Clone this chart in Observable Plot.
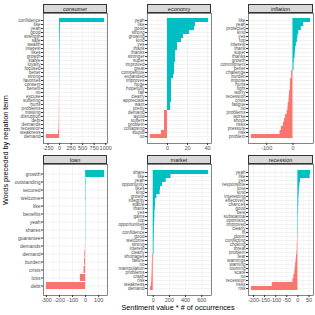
<!DOCTYPE html>
<html><head><meta charset="utf-8">
<script src="https://cdn.jsdelivr.net/npm/d3@7"></script>
<script src="https://cdn.jsdelivr.net/npm/@observablehq/plot@0.6"></script>
<style>
body{margin:0;background:#fff;font-family:"Liberation Sans",Arial,sans-serif;}
#wrap{position:relative;width:315px;height:315px;overflow:hidden;background:#fff;}
.strip{position:absolute;background:#D9D9D9;border:0.6px solid #333;box-sizing:border-box;font-size:5.5px;color:#1A1A1A;text-align:center;}
.facet{position:absolute;}
.ttl{position:absolute;font-size:7.3px;color:#000;text-align:center;white-space:nowrap;}
</style></head><body><div id="wrap"></div>
<script>
const facetNames = ["consumer","economy","inflation","loan","market","recession"];

const consumerWords = ["confidence","like","yeah","good","strength","safe","wealth","interest","likes","growth","stable","loyalty","focused","better","strong","favorites","consent","benefit","no","excuse","suffering","hurts","problems","missing","disruption","debt","demands","recession","weakness","demand"];
const consumerValues = [975,20,18,16,14,12,10,9,8,8,7,6,6,5,5,4,4,3,-3,-3,-4,-4,-5,-6,-6,-8,-10,-12,-22,-285];

const economyWords = ["yeah","like","good","strong","growing","kind","yes","thank","thanks","stronger","super","improved","great","competitive","expanded","improves","huge","hopefully","fair","clearly","appreciate","want","pretty","demand","avoid","suffers","problem","collapsing","stupid","no"];
const economyValues = [41,28,27,22,16,14,10,10,8,8,8,7,7,7,6,4,4,4,4,4,4,3,3,-3,-3,-3,-3,-3,-6,-17];

const inflationWords = ["like","yeah","protected","kind","yes","top","interest","thank","super","thanks","growth","commitment","better","challenge","burden","impose","hurts","fight","worry","recession","crisis","fatigue","no","problems","worse","shock","risks","pressure","risk","problem"];
const inflationValues = [67,41,32,22,19,17,13,10,9,8,5,4,4,-5,-5,-9,-10,-10,-13,-14,-15,-18,-19,-22,-28,-32,-36,-44,-49,-158];

const loanWords = ["growth","outstanding","secured","welcome","like","benefits","yeah","shares","guarantee","demands","demand","burden","crisis","loss","debt"];
const loanValues = [145,4,3,3,2,2,2,2,2,-2,-6,-8,-12,-40,-300];

const marketWords = ["share","like","yeah","opportunity","likes","kind","growth","integrity","stable","thank","yes","gains","top","opportunities","fit","confidence","good","welcome","strong","interest","clearly","shortages","failure","no","manipulation","problems","crash","risk","weakness","demand"];
const marketValues = [685,220,160,115,90,85,45,30,28,25,20,20,18,16,14,14,12,12,10,10,10,-10,-10,-12,-12,-14,-16,-18,-22,-35];

const recessionWords = ["yeah","like","yes","responsible","love","kind","interesting","effectively","chances","good","best","substantial","optimistic","improved","clearly","fit","doom","conflicting","choking","threat","problem","fear","warnings","warning","looming","scare","no","recession","risks","risk"];
const recessionValues = [57,55,12,9,7,6,5,4,4,3,3,2,2,2,2,2,-2,-2,-3,-3,-4,-6,-8,-10,-12,-14,-18,-22,-115,-209];

const consumerTicks = [-250,0,250,500,750,1000];
const economyTicks = [0,20,40];
const inflationTicks = [-100,0];
const loanTicks = [-300,-200,-100,0,100];
const marketTicks = [0,200,400,600];
const recessionTicks = [-200,-150,-100,-50,0,50];

const xTitle = "Sentiment value * # of occurrences";
const yTitle = "Words preceded by negation term";

const wordsList = [consumerWords,economyWords,inflationWords,loanWords,marketWords,recessionWords];
const valuesList = [consumerValues,economyValues,inflationValues,loanValues,marketValues,recessionValues];
const ticksList = [consumerTicks,economyTicks,inflationTicks,loanTicks,marketTicks,recessionTicks];

// layout
const colX = [43,147,248], colW = [64,64,65], colML = [43,40,40];
const rowY = [13,164], rowH = [130,131];
const stripH = 9;

const wrap = document.getElementById("wrap");
facetNames.forEach((name,i)=>{
  const r = Math.floor(i/3), c = i%3;
  const words = wordsList[i], values = valuesList[i], ticks = ticksList[i];
  const data = words.map((w,j)=>({w, v: values[j]}));
  const lo = Math.min(0, d3.min(values)), hi = Math.max(0, d3.max(values));
  const pad = (hi-lo)*0.05;
  const dom = [lo-pad, hi+pad];
  const step = ticks.length>1 ? ticks[1]-ticks[0] : 100;
  const minor = ticks.map(t=>t-step/2).concat([ticks[ticks.length-1]+step/2]).filter(t=>t>=dom[0]&&t<=dom[1]);
  const ml = colML[c], mb = 10;
  const labelSize = words.length > 20 ? 4.6 : 5;
  const plot = Plot.plot({
    width: ml + colW[c] + 1,
    height: 1 + rowH[r] + mb,
    marginTop: 1, marginRight: 1, marginLeft: ml, marginBottom: mb,
    style: {fontFamily:'"Liberation Sans",Arial,sans-serif', fontSize:"5px", color:"#4D4D4D", background:"transparent", overflow:"visible"},
    x: {domain: dom, label: null},
    y: {domain: words, type:"band", padding: 0.1, label: null},
    color: {type:"identity"},
    marks: [
      Plot.gridX({ticks: minor, stroke:"#EBEBEB", strokeOpacity:1, strokeWidth:0.3}),
      Plot.gridX({ticks: ticks, stroke:"#EBEBEB", strokeOpacity:1, strokeWidth:0.6}),
      Plot.gridY({stroke:"#EBEBEB", strokeOpacity:1, strokeWidth:0.6}),
      Plot.barX(data, {x:"v", y:"w", fill: d => d.v > 0 ? "#00BFC4" : "#F8766D"}),
      Plot.frame({stroke:"#333", strokeWidth:0.6}),
      Plot.axisX({ticks: ticks, tickSize:2, tickPadding:1, fontSize:5.5, stroke:"#333", fill:"#4D4D4D", tickFormat: d => String(d), label:null}),
      Plot.axisY({tickSize:2, tickPadding:1, fontSize:labelSize, stroke:"#333", fill:"#4D4D4D", label:null})
    ]
  });
  plot.classList.add("facet");
  plot.style.left = (colX[c]-ml) + "px";
  plot.style.top = (rowY[r]-1) + "px";
  wrap.appendChild(plot);
  const s = document.createElement("div");
  s.className = "strip";
  s.style.left = colX[c] + "px";
  s.style.top = (rowY[r]-stripH) + "px";
  s.style.width = colW[c] + "px";
  s.style.height = stripH + "px";
  s.style.lineHeight = (stripH-1) + "px";
  s.textContent = name;
  wrap.appendChild(s);
});

const xt = document.createElement("div");
xt.className = "ttl";
xt.style.left = (178-80) + "px"; xt.style.width = "160px";
xt.style.top = "303px"; xt.style.lineHeight = "10px";
xt.textContent = xTitle;
wrap.appendChild(xt);

const yt = document.createElement("div");
yt.className = "ttl";
yt.style.left = (6-100) + "px"; yt.style.width = "200px";
yt.style.top = (150-5) + "px"; yt.style.height = "10px"; yt.style.lineHeight = "10px";
yt.style.transform = "rotate(-90deg)";
yt.textContent = yTitle;
wrap.appendChild(yt);
</script>
</body></html>
